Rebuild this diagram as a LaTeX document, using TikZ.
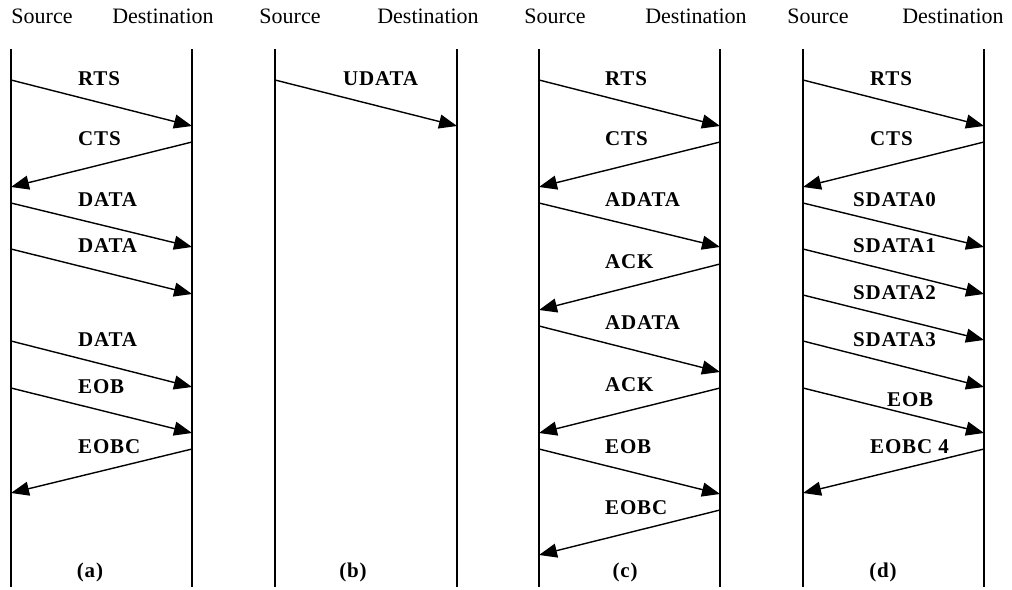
\documentclass[tikz,border=0pt]{standalone}
\usepackage{fontspec}
\setmainfont{Liberation Serif}
\usetikzlibrary{arrows.meta}
\begin{document}
\begin{tikzpicture}[x=1pt,y=-1pt,
  life/.style={line width=1.5pt},
  msg/.style={line width=1.4pt,-{Triangle[length=18pt,width=14pt]}},
  lab/.style={font=\fontsize{21}{25}\selectfont\bfseries\addfontfeatures{LetterSpace=4},inner sep=0pt,anchor=west},
  subcap/.style={font=\fontsize{21}{25}\selectfont\bfseries\addfontfeatures{LetterSpace=4},inner sep=0pt},
  head/.style={font=\fontsize{22}{26}\selectfont,inner sep=0pt}]
\useasboundingbox (0,0) rectangle (1012,589);
% headers
\node[head] (hS1) at (42,16) {Source};
\node[head] (hD1) at (163,16) {Destination};
\node[head] (hS2) at (290,16) {Source};
\node[head] (hD2) at (428,16) {Destination};
\node[head] (hS3) at (555,16) {Source};
\node[head] (hD3) at (696,16) {Destination};
\node[head] (hS4) at (818,16) {Source};
\node[head] (hD4) at (953,16) {Destination};
% lifelines
\foreach \n/\x in {aS/11,aD/192,bS/275,bD/457,cS/539,cD/720,dS/803,dD/984}{
  \coordinate (\n top) at (\x,49);
  \coordinate (\n bot) at (\x,587);
  \draw[life] (\n top) -- (\n bot);
}
% ---------- (a)
\coordinate (a1s) at (11,80);  \coordinate (a1e) at (192,126);
\coordinate (a2s) at (192,142);\coordinate (a2e) at (11,187);
\coordinate (a3s) at (11,203); \coordinate (a3e) at (192,247);
\coordinate (a4s) at (11,249); \coordinate (a4e) at (192,294);
\coordinate (a5s) at (11,341); \coordinate (a5e) at (192,387);
\coordinate (a6s) at (11,388); \coordinate (a6e) at (192,433);
\coordinate (a7s) at (192,449);\coordinate (a7e) at (11,493);
\foreach \i in {1,...,7}{\draw[msg] (a\i s) -- (a\i e);}
\node[lab] (la1) at (78,79) {RTS};
\node[lab] (la2) at (78,139) {CTS};
\node[lab] (la3) at (78,200) {DATA};
\node[lab] (la4) at (78,246) {DATA};
\node[lab] (la5) at (78,340) {DATA};
\node[lab] (la6) at (78,387) {EOB};
\node[lab] (la7) at (78,447) {EOBC};
\node[subcap] (capa) at (90,572) {(a)};
% ---------- (b)
\coordinate (b1s) at (275,80); \coordinate (b1e) at (457,126);
\draw[msg] (b1s) -- (b1e);
\node[lab] (lb1) at (343,79) {UDATA};
\node[subcap] (capb) at (353,572) {(b)};
% ---------- (c)
\coordinate (c1s) at (539,80);  \coordinate (c1e) at (720,126);
\coordinate (c2s) at (720,142); \coordinate (c2e) at (539,187);
\coordinate (c3s) at (539,203); \coordinate (c3e) at (720,247);
\coordinate (c4s) at (720,264); \coordinate (c4e) at (539,310);
\coordinate (c5s) at (539,326); \coordinate (c5e) at (720,372);
\coordinate (c6s) at (720,388); \coordinate (c6e) at (539,433);
\coordinate (c7s) at (539,449); \coordinate (c7e) at (720,494);
\coordinate (c8s) at (720,510); \coordinate (c8e) at (539,555);
\foreach \i in {1,...,8}{\draw[msg] (c\i s) -- (c\i e);}
\node[lab] (lc1) at (605,79) {RTS};
\node[lab] (lc2) at (605,139) {CTS};
\node[lab] (lc3) at (605,200) {ADATA};
\node[lab] (lc4) at (605,262) {ACK};
\node[lab] (lc5) at (605,323) {ADATA};
\node[lab] (lc6) at (605,385) {ACK};
\node[lab] (lc7) at (605,447) {EOB};
\node[lab] (lc8) at (605,508) {EOBC};
\node[subcap] (capc) at (625,572) {(c)};
% ---------- (d)
\coordinate (d1s) at (803,80);  \coordinate (d1e) at (984,126);
\coordinate (d2s) at (984,142); \coordinate (d2e) at (803,187);
\coordinate (d3s) at (803,203); \coordinate (d3e) at (984,247);
\coordinate (d4s) at (803,249); \coordinate (d4e) at (984,294);
\coordinate (d5s) at (803,295); \coordinate (d5e) at (984,340);
\coordinate (d6s) at (803,341); \coordinate (d6e) at (984,387);
\coordinate (d7s) at (803,388); \coordinate (d7e) at (984,433);
\coordinate (d8s) at (984,449); \coordinate (d8e) at (803,493);
\foreach \i in {1,...,8}{\draw[msg] (d\i s) -- (d\i e);}
\node[lab] (ld1) at (870,79) {RTS};
\node[lab] (ld2) at (870,139) {CTS};
\node[lab] (ld3) at (853,200) {SDATA0};
\node[lab] (ld4) at (853,246) {SDATA1};
\node[lab] (ld5) at (853,293) {SDATA2};
\node[lab] (ld6) at (853,340) {SDATA3};
\node[lab] (ld7) at (887,400) {EOB};
\node[lab] (ld8) at (870,447) {EOBC 4};
\node[subcap] (capd) at (883,572) {(d)};
\end{tikzpicture}
\end{document}
